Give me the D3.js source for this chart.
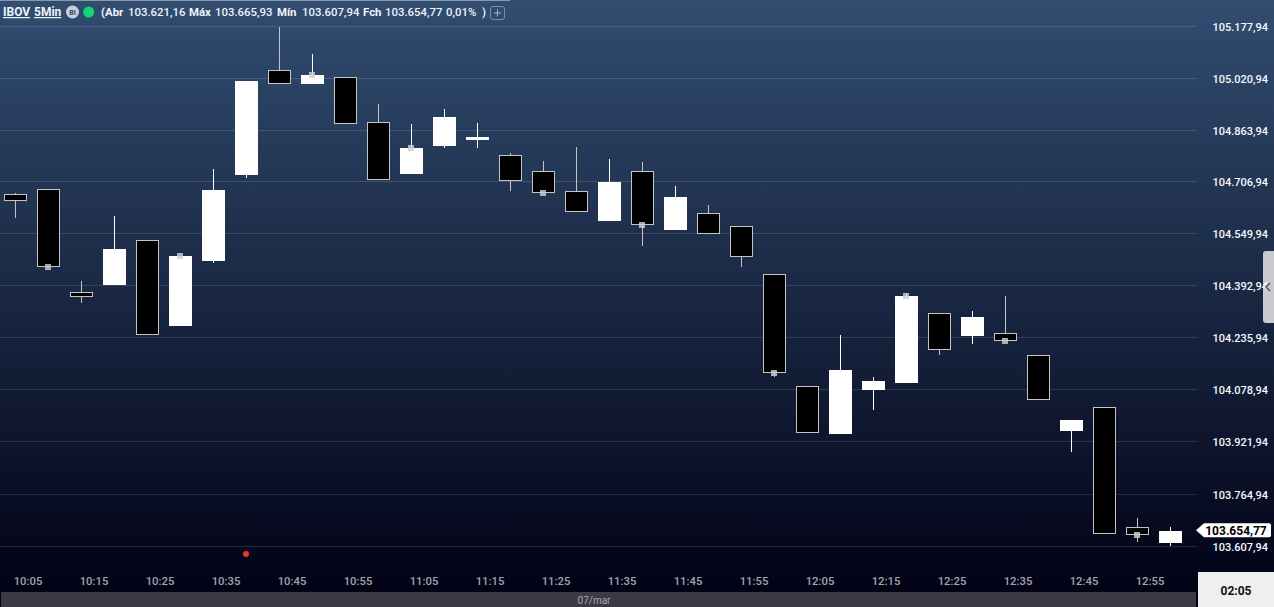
<!DOCTYPE html>
<html>
<head>
<meta charset="utf-8">
<title>IBOV 5Min</title>
<script src="https://cdn.jsdelivr.net/npm/d3@7"></script>
<style>
  html, body { margin: 0; padding: 0; background: #02021a; overflow: hidden; }
  svg { display: block; font-family: Roboto, "Liberation Sans", sans-serif; }
  .domain, .tick line { display: none; }
</style>
</head>
<body>
<svg id="chart" width="1274" height="607"></svg>
<script>
// ---- data ----
const times = [
  '10:00','10:05','10:10','10:15','10:20','10:25','10:30','10:35','10:40','10:45','10:50','10:55',
  '11:00','11:05','11:10','11:15','11:20','11:25','11:30','11:35','11:40','11:45','11:50','11:55',
  '12:00','12:05','12:10','12:15','12:20','12:25','12:30','12:35','12:40','12:45','12:50','12:55'
];
const opens = [
  104671.6,104685.8,104374.8,104396.8,104531.8,104273.0,104469.3,104728.9,105045.0,105003.7,105023.9,104888.0,
  104731.9,104816.5,104834.6,104788.4,104740.1,104679.7,104590.0,104740.1,104562.9,104613.3,104574.0,104429.1,
  104091.0,103946.9,104079.8,104100.9,104311.4,104242.8,104251.0,104184.6,103956.0,104027.6,103665.3,103618.0
];
const highs = [
  104674.6,104685.8,104408.9,104605.1,104531.8,104484.4,104747.0,105012.7,105175.8,105094.2,105023.9,104943.3,
  104882.9,104928.2,104885.9,104795.4,104771.2,104813.5,104777.2,104768.2,104695.7,104638.4,104574.0,104429.1,
  104091.0,104245.9,104119.0,104372.7,104311.4,104318.3,104363.6,104184.6,103989.2,104027.6,103693.3,103665.93
];
const lows = [
  104600.0,104452.1,104343.4,104396.8,104246.8,104273.0,104464.1,104720.8,105004.6,105003.7,104883.8,104714.7,
  104731.9,104810.4,104810.4,104680.6,104675.5,104618.1,104590.0,104514.6,104562.9,104551.7,104451.2,104119.0,
  103950.9,103946.9,104019.4,104100.9,104185.5,104218.7,104228.6,104050.5,103892.6,103645.9,103620.9,103607.94
];
const closes = [
  104651.3,104452.1,104361.5,104505.5,104246.8,104484.4,104683.6,105012.7,105004.6,105030.8,104883.8,104714.7,
  104810.4,104904.0,104843.7,104711.7,104675.5,104618.1,104707.8,104578.9,104662.5,104551.7,104482.3,104132.0,
  103950.9,104140.2,104107.0,104363.6,104201.5,104300.2,104228.6,104050.5,103989.2,103645.9,103642.9,103654.77
];
// grey square sits on the close of these bars
const markerTimes = ['10:05','10:25','10:45','11:00','11:20','11:35','11:55','12:15','12:30','12:50'];
const redDotTimes = ['10:35'];
const redDotPrices = [103584.7];

const priceTicks = [105177.94,105020.94,104863.94,104706.94,104549.94,104392.94,104235.94,104078.94,103921.94,103764.94,103607.94];
const timeTicks = ['10:05','10:15','10:25','10:35','10:45','10:55','11:05','11:15','11:25','11:35','11:45','11:55','12:05','12:15','12:25','12:35','12:45','12:55'];
const lastPrice = 103654.77;
const headerParts = [
  { text: '(Abr', x: 101, w: 700 }, { text: '103.621,16', x: 128, w: 500 },
  { text: 'Máx', x: 189, w: 700 }, { text: '103.665,93', x: 215, w: 500 },
  { text: 'Mín', x: 277, w: 700 }, { text: '103.607,94', x: 302, w: 500 },
  { text: 'Fch', x: 363, w: 700 }, { text: '103.654,77', x: 385, w: 500 },
  { text: '0,01%', x: 446, w: 500 }, { text: ')', x: 482, w: 500 }
];

// ---- setup ----
const svg = d3.select('#chart');
const ptBR = d3.formatLocale({ decimal: ',', thousands: '.', grouping: [3], currency: ['R$', ''] });
const fmt = ptBR.format(',.2f');

const x = d3.scalePoint().domain(times).range([15.5, 15.5 + 33 * (times.length - 1)]);
const y = d3.scaleLinear().domain([103607.94, 105177.94]).range([546.3, 26.3]);
const py = v => Math.round(y(v));
// the platform snaps its grid rows unevenly, so grid and labels get their own scale
const gridY = d3.scaleLinear()
  .domain([103607.94, 103764.94, 103921.94, 104706.94, 104863.94, 105177.94])
  .range([546.5, 494.5, 441.5, 181.5, 130.5, 26.5]);

const candles = times.map((t, i) => ({ t, o: opens[i], h: highs[i], l: lows[i], c: closes[i], up: closes[i] >= opens[i] }));

const defs = svg.append('defs');
const grad = defs.append('linearGradient').attr('id', 'bg').attr('x1', 0).attr('y1', 0).attr('x2', 0).attr('y2', 1);
grad.append('stop').attr('offset', '0%').attr('stop-color', 'rgb(49,77,112)');
grad.append('stop').attr('offset', '97%').attr('stop-color', 'rgb(2,2,22)');
grad.append('stop').attr('offset', '100%').attr('stop-color', 'rgb(2,2,22)');
svg.append('rect').attr('width', 1274).attr('height', 607).attr('fill', 'url(#bg)');
svg.append('rect').attr('width', 510).attr('height', 1).attr('fill', '#8d99a8');

// ---- grid ----
svg.append('g').selectAll('line').data(priceTicks).join('line')
  .attr('x1', 0).attr('x2', 1197)
  .attr('y1', d => gridY(d)).attr('y2', d => gridY(d))
  .attr('stroke', '#fff').attr('stroke-opacity', 0.13);

// ---- handle on the right edge ----
svg.append('path')
  .attr('d', 'M1274,251H1266Q1263,251 1263,254V320Q1263,323 1266,323H1274Z')
  .attr('fill', '#c9cad0');

// ---- price axis ----
const yAxis = svg.append('g').attr('transform', 'translate(1268,0)')
  .call(d3.axisRight(gridY).tickValues(priceTicks).tickFormat(fmt).tickSize(0).tickPadding(0));
yAxis.selectAll('text')
  .attr('text-anchor', 'end').attr('x', 0).attr('dy', '0.36em')
  .attr('fill', '#f6f9ff').attr('font-size', 11).attr('font-weight', 500).attr('font-family', 'Roboto, sans-serif');

svg.append('path').attr('d', 'M1270,283L1266,287L1270,291')
  .attr('fill', 'none').attr('stroke', '#555').attr('stroke-width', 1.5);

// ---- time axis ----
const xAxis = svg.append('g').attr('transform', 'translate(-21,0)')
  .call(d3.axisBottom(x).tickValues(timeTicks).tickSize(0).tickPadding(0));
xAxis.selectAll('text')
  .attr('y', 581).attr('dy', '0.36em')
  .attr('fill', '#a4a4ac').attr('font-size', 11.3).attr('font-weight', 500).attr('font-family', 'Roboto, sans-serif');

// ---- candles ----
const gc = svg.append('g');
gc.selectAll('line.wick').data(candles).join('line')
  .attr('class', 'wick')
  .attr('x1', d => x(d.t)).attr('x2', d => x(d.t))
  .attr('y1', d => py(d.h)).attr('y2', d => py(d.l))
  .attr('stroke', d => d.up ? '#fff' : '#c4c4c4');

gc.selectAll('rect.body').data(candles).join('rect')
  .attr('class', 'body')
  .attr('x', d => d.up ? x(d.t) - 11.5 : x(d.t) - 11)
  .attr('width', d => d.up ? 23 : 22)
  .attr('y', d => d.up ? py(d.c) : py(d.o) + 0.5)
  .attr('height', d => d.up ? Math.max(1, py(d.o) - py(d.c)) : Math.max(1, py(d.c) - py(d.o) - 1))
  .attr('fill', d => d.up ? '#fff' : '#000')
  .attr('stroke', d => d.up ? 'none' : '#c4c4c4');

gc.selectAll('rect.marker').data(candles.filter(d => markerTimes.includes(d.t))).join('rect')
  .attr('class', 'marker')
  .attr('x', d => x(d.t) - 3.5).attr('y', d => py(d.c) - 3)
  .attr('width', 6).attr('height', 6)
  .attr('fill', '#cfcfcf').attr('fill-opacity', 0.82);

svg.append('g').selectAll('circle').data(redDotTimes).join('circle')
  .attr('cx', d => x(d) - 0.5).attr('cy', (d, i) => y(redDotPrices[i]))
  .attr('r', 3).attr('fill', '#f5302f');

// ---- last price tag ----
const tagY = y(lastPrice) - 0.5;
svg.append('path')
  .attr('d', `M1196,${tagY}L1204,${tagY - 7}H1269Q1271,${tagY - 7} 1271,${tagY - 5}V${tagY + 5}Q1271,${tagY + 7} 1269,${tagY + 7}H1204Z`)
  .attr('fill', '#fff');
svg.append('text').attr('x', 1236).attr('y', tagY).attr('dy', '0.36em')
  .attr('text-anchor', 'middle').attr('font-size', 12).attr('font-weight', 700).attr('fill', '#000')
  .text(fmt(lastPrice));

// ---- bottom strip and countdown ----
svg.append('rect').attr('x', 1).attr('y', 592).attr('width', 1195).attr('height', 15).attr('fill', '#3a3a46');
svg.append('text').attr('x', 594).attr('y', 600).attr('dy', '0.36em').attr('text-anchor', 'middle')
  .attr('font-size', 10).attr('fill', '#a8a8b0').text('07/mar');
svg.append('rect').attr('x', 1198).attr('y', 572).attr('width', 76).attr('height', 35).attr('fill', '#efefef');
svg.append('text').attr('x', 1236).attr('y', 591).attr('dy', '0.36em').attr('text-anchor', 'middle')
  .attr('font-size', 12).attr('font-weight', 700).attr('fill', '#111').text('02:05');

// ---- header ----
const head = svg.append('g').attr('font-size', 11.4).attr('fill', '#eef3fa');
head.append('text').attr('x', 3).attr('y', 16).attr('font-size', 12).attr('font-weight', 700).attr('text-decoration', 'underline').text('IBOV');
head.append('text').attr('x', 34).attr('y', 16).attr('font-size', 12).attr('font-weight', 700).attr('text-decoration', 'underline').text('5Min');
head.append('circle').attr('cx', 72.5).attr('cy', 12).attr('r', 6.5).attr('fill', '#c9ced8');
head.append('text').attr('x', 72.5).attr('y', 14.5).attr('text-anchor', 'middle').attr('font-size', 7)
  .attr('font-weight', 700).attr('fill', '#2e4566').text('BI');
head.append('circle').attr('cx', 88.7).attr('cy', 12).attr('r', 7).attr('fill', '#1d5a5e');
head.append('circle').attr('cx', 88.7).attr('cy', 12).attr('r', 5.5).attr('fill', '#18d27a');
head.selectAll('text.part').data(headerParts).join('text')
  .attr('class', 'part')
  .attr('x', d => d.x).attr('y', 16).attr('font-weight', d => d.w)
  .text(d => d.text);
head.append('rect').attr('x', 490.5).attr('y', 6.5).attr('width', 14).attr('height', 13).attr('rx', 2.5)
  .attr('fill', 'none').attr('stroke', '#7f8ea3');
head.append('path').attr('d', 'M497.5,9.5V16.5M494,13H501').attr('stroke', '#aab4c2').attr('fill', 'none');
</script>
</body>
</html>
